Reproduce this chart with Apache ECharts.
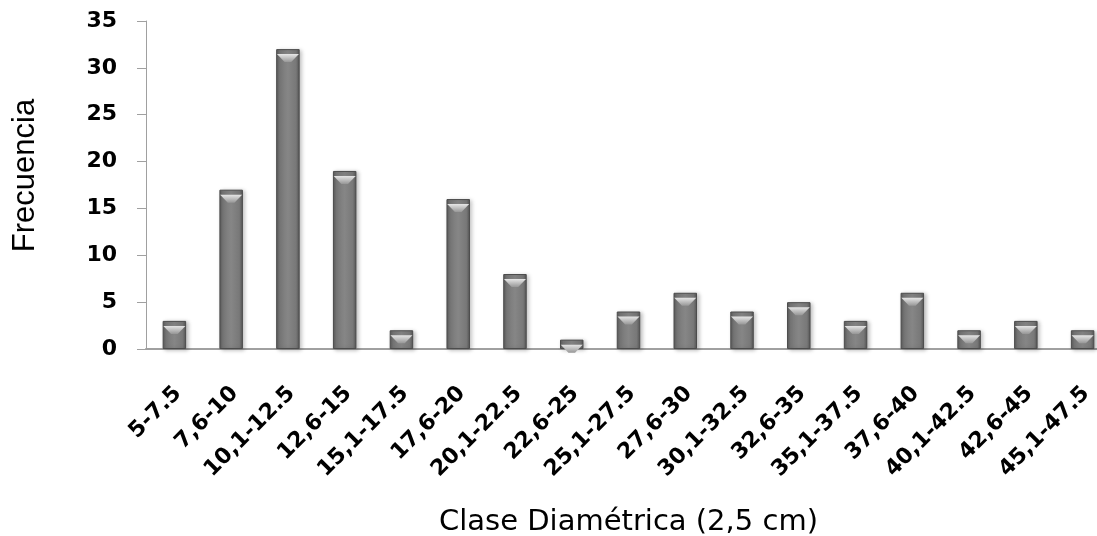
<!DOCTYPE html>
<html>
<head>
<meta charset="utf-8">
<script src="https://cdn.jsdelivr.net/npm/echarts@6/dist/echarts.min.js"></script>
<style>
  html, body { margin: 0; padding: 0; background: #fff; }
  #chart { width: 1097px; height: 536px; }
</style>
</head>
<body>
<div id="chart"></div>
<script>
// clases diametricas
const categories = ['5-7.5', '7,6-10', '10,1-12.5', '12,6-15', '15,1-17.5', '17,6-20',
  '20,1-22.5', '22,6-25', '25,1-27.5', '27,6-30', '30,1-32.5', '32,6-35',
  '35,1-37.5', '37,6-40', '40,1-42.5', '42,6-45', '45,1-47.5']
const frecuencia = [3, 17, 32, 19, 2, 16, 8, 1, 4, 6, 4, 5, 3, 6, 2, 3, 2]
const yTicks = { min: 0, max: 35, interval: 5 }

const chart = echarts.init(document.getElementById('chart'))

const barColor = new echarts.graphic.LinearGradient(0, 0, 1, 0, [
  { offset: 0, color: '#5a5a5a' },
  { offset: 0.15, color: '#787878' },
  { offset: 0.5, color: '#868686' },
  { offset: 0.85, color: '#787878' },
  { offset: 1, color: '#555555' }
])
// bisel superior
const bevelColor = new echarts.graphic.LinearGradient(0, 0, 0, 1, [
  { offset: 0, color: '#e6e6e6' },
  { offset: 1, color: '#979797' }
])

chart.setOption({
  animation: false,
  grid: { left: 146, right: -14, top: 21, bottom: 187, outerBoundsMode: 'none', containLabel: false },
  xAxis: {
    type: 'category',
    data: categories,
    name: 'Clase Diamétrica (2,5 cm)',
    nameLocation: 'middle',
    nameGap: 159,
    nameTextStyle: { fontFamily: 'DejaVu Sans', fontSize: 29, color: '#000' },
    axisLine: { lineStyle: { color: '#a0a0a0', width: 2 } },
    axisTick: { show: false },
    axisLabel: {
      rotate: 45,
      interval: 0,
      margin: 29,
      verticalAlign: 'top',
      padding: [0, 6, 0, 0],
      fontFamily: 'DejaVu Sans',
      fontWeight: 'bold',
      fontSize: 22,
      color: '#000'
    }
  },
  yAxis: {
    type: 'value',
    min: yTicks.min,
    max: yTicks.max,
    interval: yTicks.interval,
    name: 'Frecuencia',
    nameLocation: 'middle',
    nameGap: 105,
    nameRotate: 90,
    nameTextStyle: {
      fontFamily: 'Liberation Sans', fontSize: 31, color: '#000',
      padding: [0, 0, 0, 19]
    },
    splitLine: { show: false },
    axisLine: { show: true, lineStyle: { color: '#a0a0a0' } },
    axisTick: { show: true, length: 9, lineStyle: { color: '#a0a0a0' } },
    axisLabel: {
      margin: 29,
      fontFamily: 'DejaVu Sans',
      fontWeight: 'bold',
      fontSize: 22,
      color: '#000'
    }
  },
  series: [{
    type: 'bar',
    data: frecuencia,
    barWidth: '41.4%',
    itemStyle: {
      color: barColor,
      borderColor: '#4c4c4c',
      borderWidth: 1,
      shadowColor: 'rgba(0,0,0,0.25)',
      shadowBlur: 4,
      shadowOffsetX: 2,
      shadowOffsetY: 1
    }
  }, {
    type: 'pictorialBar',
    data: frecuencia,
    barWidth: 22,
    symbol: 'path://M0,0 L10,0 L6.5,4 L3.5,4 Z',
    symbolSize: [22, 8],
    symbolPosition: 'end',
    symbolOffset: [0, 5],
    itemStyle: { color: bevelColor },
    z: 3
  }]
})
</script>
</body>
</html>
